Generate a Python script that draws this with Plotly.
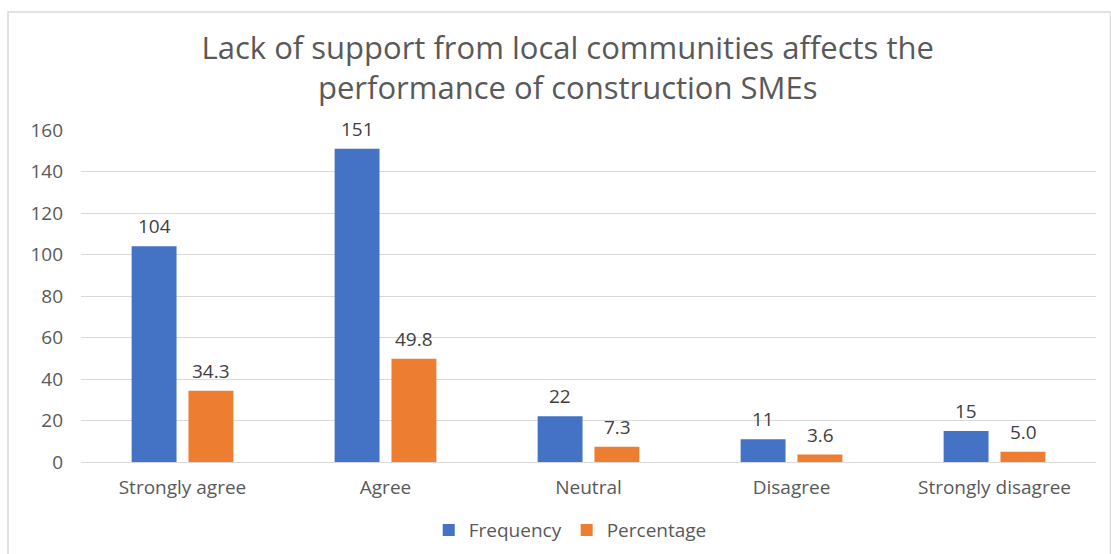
import plotly.graph_objects as go

# Survey responses
categories = ["Strongly agree", "Agree", "Neutral", "Disagree", "Strongly disagree"]
frequency = [104, 151, 22, 11, 15]
percentage = [34.3, 49.8, 7.3, 3.6, 5.0]
y_ticks = [0, 20, 40, 60, 80, 100, 120, 140, 160]

BLUE = "#4472C4"
ORANGE = "#ED7D31"
TEXT = "#595959"
FONT = "Open Sans"

fig = go.Figure()
fig.add_trace(go.Bar(name="Frequency", x=categories, y=frequency,
                     marker=dict(color=BLUE, line=dict(width=0))))
fig.add_trace(go.Bar(name="Percentage", x=categories, y=percentage,
                     marker=dict(color=ORANGE, line=dict(width=0))))

# value labels above each bar
annotations = []
for vals, shift, fmt in ((frequency, -28.5, "{:d}"), (percentage, 28.5, "{:.1f}")):
    for c, v in zip(categories, vals):
        annotations.append(dict(x=c, y=v, xref="x", yref="y", text=fmt.format(v),
                                showarrow=False, xshift=shift, yshift=20, yanchor="middle",
                                font=dict(family=FONT, size=19, color="#404040")))

fig.update_layout(
    width=1111, height=554,
    margin=dict(l=81, r=15, t=130, b=92, autoexpand=False),
    paper_bgcolor="white", plot_bgcolor="white",
    barmode="group", bargap=0.44, bargroupgap=0.21,
    title=dict(text="Lack of support from local communities affects the<br>performance of construction SMEs",
               x=0.511, xanchor="center", y=1 - 59 / 554, yanchor="middle",
               font=dict(family=FONT, size=31, color=TEXT)),
    font=dict(family=FONT, size=19, color=TEXT),
    xaxis=dict(showgrid=False, showline=False, ticks="", automargin=False,
               ticklabelstandoff=12, tickfont=dict(size=19, color=TEXT)),
    yaxis=dict(range=[0, 160], tickvals=y_ticks, showgrid=True, gridcolor="#D9D9D9",
               gridwidth=1.3, zeroline=True, zerolinecolor="#D9D9D9", zerolinewidth=1.3,
               ticks="", automargin=False, ticklabelstandoff=17,
               tickfont=dict(size=19, color=TEXT)),
    legend=dict(orientation="h", x=0.482, xanchor="center", y=-0.205, yanchor="middle",
                font=dict(family=FONT, size=19, color=TEXT), itemwidth=30),
    annotations=annotations,
    shapes=[dict(type="rect", xref="paper", yref="paper", x0=-0.0719, x1=1.0143,
                 y0=-0.4, y1=1.3554, line=dict(color="#D9D9D9", width=1.5),
                 fillcolor="rgba(0,0,0,0)", layer="below")],
)

fig.write_html("out.html")
